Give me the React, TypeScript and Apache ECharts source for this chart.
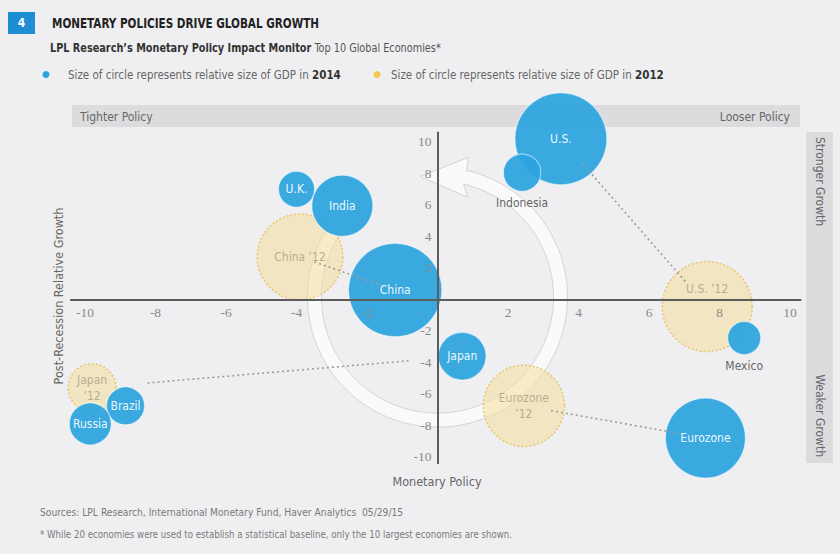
import { useEffect, useRef } from 'react';
import * as echarts from 'echarts';

// ---------- data ----------
const countries2014 = ['U.S.', 'Indonesia', 'U.K.', 'India', 'China', 'Japan', 'Mexico', 'Eurozone', 'Brazil', 'Russia'];
const policy2014 = [3.5, 2.4, -4.0, -2.7, -1.2, 0.7, 8.7, 7.6, -8.85, -9.85];
const growth2014 = [10.2, 8.05, 7.0, 5.95, 0.6, -3.6, -2.45, -8.8, -6.75, -7.9];
const gdpIndex2014 = [100, 16.5, 15.3, 44, 103, 27, 12.9, 75.6, 17, 20.8];

const countries2012 = ['China', 'U.S.', 'Japan', 'Eurozone'];
const labels2012 = ['China ’12', 'U.S. ’12', 'Japan\n’12', 'Eurozone\n’12'];
const policy2012 = [-3.9, 7.65, -9.8, 2.45];
const growth2012 = [2.7, -0.45, -5.6, -6.75];
const gdpIndex2012 = [87, 95.7, 27, 78];

const xTickValues = [-10, -8, -6, -4, -2, 2, 4, 6, 8, 10];
const yTickValues = [-10, -8, -6, -4, -2, 2, 4, 6, 8, 10];

// ---------- layout & styles ----------
const X_MIN = -10.4, X_MAX = 10.3, Y_MIN = -10.4, Y_MAX = 10.6;
const W = 840, H = 554;
const GRID = { left: 70.9, right: 39.4, top: 132.5, bottom: 90.7 };
const PLOT_W = W - GRID.left - GRID.right;
const PLOT_H = H - GRID.top - GRID.bottom;

const BG = '#EFEFF1';
const BLUE = '#2BA4DF';
const YELLOW = 'rgba(246, 222, 152, 0.65)';
const YELLOW_BORDER = '#E3BE55';
const FONT = "'DejaVu Sans Condensed', 'Liberation Sans Narrow', 'Noto Sans', sans-serif";
const SERIF = "'Liberation Serif', 'DejaVu Serif', serif";
const TEXT = '#666';

const bubbleSize = (v: number) => 92 * Math.sqrt(v / 100);

const tickFormatter = (ticks: number[]) => (v: number) => {
  const r = Math.round(v);
  if (Math.abs(v - r) < 1e-6 && ticks.indexOf(r) >= 0) return String(r);
  return '';
};

export default function App() {
  const ref = useRef<HTMLDivElement>(null);

  useEffect(() => {
    const chart = echarts.init(ref.current!, null, { renderer: 'svg' });

    const data2014 = countries2014.map((name, i) => {
      const below = name === 'Indonesia' || name === 'Mexico';
      return {
        name,
        value: [policy2014[i], growth2014[i], gdpIndex2014[i]],
        label: below
          ? { show: true, position: 'bottom', distance: 5, color: '#555', formatter: name }
          : { show: true, position: 'inside', color: '#fff', formatter: name },
      };
    });

    const data2012 = countries2012.map((name, i) => ({
      name,
      value: [policy2012[i], growth2012[i], gdpIndex2012[i]],
      label: {
        show: true,
        position: 'inside',
        formatter: labels2012[i],
        offset: name === 'U.S.' ? [0, -18] : [0, 0],
      },
    }));

    // dotted connectors, trimmed between the 2012 and 2014 positions
    const connectors = countries2012.map((name, i) => {
      const j = countries2014.indexOf(name);
      const p0 = [policy2012[i], growth2012[i]];
      const p1 = [policy2014[j], growth2014[j]];
      const at = (t: number) => [p0[0] + (p1[0] - p0[0]) * t, p0[1] + (p1[1] - p0[1]) * t];
      return {
        type: 'line',
        z: 6,
        silent: true,
        symbol: 'none',
        data: [at(0.15), at(0.86)],
        lineStyle: { color: '#9c9c9c', width: 1.6, type: [2, 3] },
      };
    });

    const xAxisOffset = -((0 - Y_MIN) / (Y_MAX - Y_MIN)) * PLOT_H;
    const yAxisOffset = -((0 - X_MIN) / (X_MAX - X_MIN)) * PLOT_W;

    const axisLabel = (ticks: number[]) => ({
      formatter: tickFormatter(ticks),
      color: '#8a8a8a',
      fontFamily: SERIF,
      fontSize: 13.5,
      margin: 6,
    });

    const option: any = {
      animation: false,
      backgroundColor: BG,
      grid: { ...GRID, containLabel: false },
      xAxis: {
        type: 'value',
        min: X_MIN,
        max: X_MAX,
        interval: 0.1,
        position: 'bottom',
        offset: xAxisOffset,
        z: 10,
        axisLine: { onZero: false, lineStyle: { color: '#5c5c5c', width: 2 } },
        axisTick: { show: false },
        splitLine: { show: false },
        axisLabel: axisLabel(xTickValues),
      },
      yAxis: {
        type: 'value',
        min: Y_MIN,
        max: Y_MAX,
        interval: 0.1,
        position: 'left',
        offset: yAxisOffset,
        z: 10,
        axisLine: { onZero: false, lineStyle: { color: '#5c5c5c', width: 2 } },
        axisTick: { show: false },
        splitLine: { show: false },
        axisLabel: axisLabel(yTickValues),
      },
      series: [
        {
          type: 'custom',
          z: 1,
          silent: true,
          data: [[0, 0.15]],
          renderItem: (params: any, api: any) => {
            const c = api.coord([api.value(0), api.value(1)]);
            const rOut = 130, rIn = 116, rMid = 123;
            const a0 = 140, a1 = 437;
            const pt = (r: number, deg: number) => {
              const t = (deg * Math.PI) / 180;
              return [c[0] + r * Math.cos(t), c[1] - r * Math.sin(t)];
            };
            const pts: number[][] = [];
            for (let a = a0; a <= a1; a += 1.5) pts.push(pt(rOut, a));
            pts.push(pt(rOut, a1));
            const B = pt(rMid, a1);
            const tp = ((a1 + 12) * Math.PI) / 180;
            const d = [-Math.sin(tp), -Math.cos(tp)];
            const n = [Math.cos(tp), -Math.sin(tp)];
            pts.push([B[0] + n[0] * 20 - d[0] * 3, B[1] + n[1] * 20 - d[1] * 3]);
            pts.push([B[0] + d[0] * 45, B[1] + d[1] * 45]);
            pts.push([B[0] - n[0] * 20 - d[0] * 3, B[1] - n[1] * 20 - d[1] * 3]);
            pts.push(pt(rIn, a1));
            for (let a = a1; a >= a0; a -= 1.5) pts.push(pt(rIn, a));
            pts.push(pt(rIn, a0));
            return {
              type: 'polygon',
              shape: { points: pts },
              style: { fill: '#FAFAFA', stroke: '#D4D4D6', lineWidth: 1 },
            };
          },
        },
        {
          type: 'scatter',
          name: '2012',
          z: 3,
          data: data2012,
          symbolSize: (v: number[]) => bubbleSize(v[2]),
          itemStyle: {
            color: YELLOW,
            borderColor: YELLOW_BORDER,
            borderWidth: 1.5,
            borderType: [2, 2],
          },
          label: {
            fontFamily: FONT,
            fontSize: 12,
            color: '#A69C82',
            lineHeight: 16,
            align: 'center',
          },
          emphasis: { disabled: true },
        },
        {
          type: 'scatter',
          name: '2014',
          z: 4,
          data: data2014,
          symbolSize: (v: number[]) => bubbleSize(v[2]),
          itemStyle: {
            color: BLUE,
            opacity: 0.93,
            borderColor: 'rgba(255,255,255,0.55)',
            borderWidth: 1.2,
          },
          label: { fontFamily: FONT, fontSize: 12 },
          emphasis: { disabled: true },
        },
        ...connectors,
      ],
      graphic: [
        { type: 'rect', shape: { x: 8, y: 12, width: 27, height: 22 }, style: { fill: '#1E8DD3' } },
        {
          type: 'text', x: 21.5, y: 23,
          style: { text: '4', fill: '#fff', fontFamily: FONT, fontWeight: 'bold', fontSize: 12, align: 'center', verticalAlign: 'middle' },
        },
        {
          type: 'text', x: 52, y: 23, scaleX: 0.8,
          style: { text: 'MONETARY POLICIES DRIVE GLOBAL GROWTH', fill: '#222', fontFamily: FONT, fontWeight: 'bold', fontSize: 14.5, align: 'left', verticalAlign: 'middle' },
        },
        {
          type: 'text', x: 50, y: 48, scaleX: 0.9,
          style: {
            text: '{b|LPL Research’s Monetary Policy Impact Monitor} {r|Top 10 Global Economies*}',
            align: 'left', verticalAlign: 'middle',
            rich: {
              b: { fontFamily: FONT, fontWeight: 'bold', fontSize: 12, fill: '#333' },
              r: { fontFamily: FONT, fontSize: 12, fill: '#555' },
            },
          },
        },
        { type: 'circle', shape: { cx: 46, cy: 74.5, r: 3.5 }, style: { fill: BLUE } },
        {
          type: 'text', x: 68, y: 75,
          style: {
            text: '{r|Size of circle represents relative size of GDP in }{b|2014}',
            align: 'left', verticalAlign: 'middle',
            rich: {
              r: { fontFamily: FONT, fontSize: 11.5, fill: TEXT },
              b: { fontFamily: FONT, fontWeight: 'bold', fontSize: 11.5, fill: '#333' },
            },
          },
        },
        { type: 'circle', shape: { cx: 377, cy: 74.5, r: 3.5 }, style: { fill: '#F2C94C' } },
        {
          type: 'text', x: 391, y: 75,
          style: {
            text: '{r|Size of circle represents relative size of GDP in }{b|2012}',
            align: 'left', verticalAlign: 'middle',
            rich: {
              r: { fontFamily: FONT, fontSize: 11.5, fill: TEXT },
              b: { fontFamily: FONT, fontWeight: 'bold', fontSize: 11.5, fill: '#333' },
            },
          },
        },
        { type: 'rect', shape: { x: 72, y: 105, width: 728, height: 22 }, style: { fill: '#DCDCDE' } },
        {
          type: 'text', x: 80, y: 116.5,
          style: { text: 'Tighter Policy', fill: TEXT, fontFamily: FONT, fontSize: 12, align: 'left', verticalAlign: 'middle' },
        },
        {
          type: 'text', x: 790, y: 116.5,
          style: { text: 'Looser Policy', fill: TEXT, fontFamily: FONT, fontSize: 12, align: 'right', verticalAlign: 'middle' },
        },
        { type: 'rect', shape: { x: 806, y: 132, width: 27, height: 331 }, style: { fill: '#DCDCDE' } },
        {
          type: 'text', x: 820, y: 137, rotation: -Math.PI / 2,
          style: { text: 'Stronger Growth', fill: TEXT, fontFamily: FONT, fontSize: 12, align: 'left', verticalAlign: 'middle' },
        },
        {
          type: 'text', x: 820, y: 457, rotation: -Math.PI / 2,
          style: { text: 'Weaker Growth', fill: TEXT, fontFamily: FONT, fontSize: 12, align: 'right', verticalAlign: 'middle' },
        },
        {
          type: 'text', x: 58, y: 296, rotation: Math.PI / 2,
          style: { text: 'Post-Recession Relative Growth', fill: TEXT, fontFamily: FONT, fontSize: 12.5, align: 'center', verticalAlign: 'middle' },
        },
        {
          type: 'text', x: 437, y: 481,
          style: { text: 'Monetary Policy', fill: TEXT, fontFamily: FONT, fontSize: 12.5, align: 'center', verticalAlign: 'middle' },
        },
        {
          type: 'text', x: 40, y: 512,
          style: { text: 'Sources: LPL Research, International Monetary Fund, Haver Analytics  05/29/15', fill: '#7a7a7a', fontFamily: FONT, fontSize: 10.2, align: 'left', verticalAlign: 'middle' },
        },
        {
          type: 'text', x: 40, y: 534,
          style: { text: '* While 20 economies were used to establish a statistical baseline, only the 10 largest economies are shown.', fill: '#7a7a7a', fontFamily: FONT, fontSize: 9.6, align: 'left', verticalAlign: 'middle' },
        },
      ],
    };

    chart.setOption(option);
    return () => chart.dispose();
  }, []);

  return (
    <div
      ref={ref}
      style={{ position: 'fixed', left: 0, top: 0, width: W, height: H, background: BG }}
    />
  );
}
